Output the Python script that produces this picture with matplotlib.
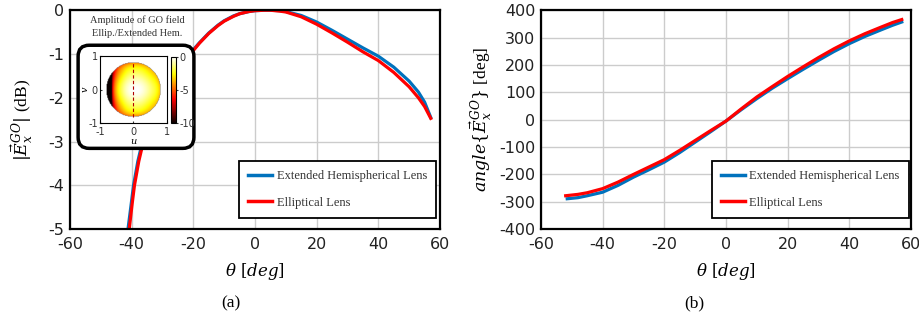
import numpy as np
import matplotlib
matplotlib.use("Agg")
import matplotlib.pyplot as plt
from matplotlib.patches import FancyBboxPatch

plt.rcParams['axes.unicode_minus'] = False
plt.rcParams['mathtext.fontset'] = 'dejavuserif'

# (a) amplitude of GO field [dB] vs theta [deg]
theta_amp_ext = [-41.2, -40.2, -39.4, -38.0, -36.5, -34, -32, -30, -28, -26, -24, -22, -20, -18, -15, -12, -10, -7, -5, -2, 0, 3, 5, 8, 10, 15, 20, 25, 30, 35, 40, 45, 50, 53, 55, 57]
amp_ext = [-5.0, -4.45, -4.0, -3.45, -3.0, -2.52, -2.2, -1.9, -1.64, -1.42, -1.24, -1.06, -0.9, -0.74, -0.52, -0.34, -0.24, -0.13, -0.08, -0.03, -0.01, 0.0, 0.0, -0.01, -0.03, -0.12, -0.27, -0.46, -0.66, -0.86, -1.05, -1.3, -1.62, -1.87, -2.1, -2.45]
theta_amp_ell = [-40.8, -39.9, -39.1, -37.7, -36.2, -34, -32, -30, -28, -26, -24, -22, -20, -18, -15, -12, -10, -7, -5, -2, 0, 3, 5, 8, 10, 15, 20, 25, 30, 35, 40, 45, 50, 53, 55, 57]
amp_ell = [-5.0, -4.45, -4.0, -3.45, -3.0, -2.55, -2.22, -1.92, -1.66, -1.44, -1.25, -1.07, -0.92, -0.75, -0.53, -0.35, -0.25, -0.14, -0.08, -0.03, -0.01, 0.0, 0.0, -0.02, -0.04, -0.15, -0.32, -0.52, -0.73, -0.95, -1.15, -1.42, -1.75, -2.0, -2.2, -2.47]

# (b) phase of GO field [deg] vs theta [deg]
theta_ph_ext = [-51.5, -48, -45, -40, -35, -30, -25, -20, -15, -10, -5, 0, 5, 10, 15, 20, 25, 30, 35, 40, 45, 50, 54, 57]
ph_ext = [-289, -285, -278, -265, -240, -210, -183, -155, -120, -82, -44, -5, 37, 77, 115, 150, 184, 217, 249, 278, 304, 327, 345, 357]
theta_ph_ell = [-52, -48, -45, -40, -35, -30, -25, -20, -15, -10, -5, 0, 5, 10, 15, 20, 25, 30, 35, 40, 45, 50, 54, 57]
ph_ell = [-278, -273, -267, -252, -228, -200, -173, -146, -112, -76, -40, -5, 40, 83, 121, 158, 193, 227, 259, 288, 314, 337, 355, 366]

labels = ['Extended Hemispherical Lens', 'Elliptical Lens']
blue = '#0072BD'
red = '#FF0000'
serif = ['Liberation Serif', 'DejaVu Serif']

fig = plt.figure(figsize=(9.19, 3.2), dpi=100)
ax1 = fig.add_axes([0.0762, 0.284, 0.4026, 0.684])
ax2 = fig.add_axes([0.5887, 0.284, 0.4026, 0.684])

for ax in (ax1, ax2):
    ax.grid(True, color='#cccccc', linewidth=1.0)
    ax.set_axisbelow(True)
    ax.tick_params(length=0, labelsize=11.5, colors='#222222', pad=4)
    ax.tick_params(axis='x', pad=6)
    for s in ax.spines.values():
        s.set_linewidth(1.6)
    ax.set_xlim(-60, 60)
    ax.set_xticks([-60, -40, -20, 0, 20, 40, 60])
    ax.set_xlabel(r'$\theta\ [deg]$', fontsize=12, labelpad=6)

ax1.plot(theta_amp_ext, amp_ext, color=blue, lw=2.3, label=labels[0])
ax1.plot(theta_amp_ell, amp_ell, color=red, lw=2.3, label=labels[1])
ax1.set_ylim(-5, 0)
ax1.set_yticks([-5, -4, -3, -2, -1, 0])
ax1.set_ylabel(r'$|\vec{E}_x^{GO}|$ (dB)', fontsize=12.5, labelpad=10, family=serif)

ax2.plot(theta_ph_ext, ph_ext, color=blue, lw=2.3, label=labels[0])
ax2.plot(theta_ph_ell, ph_ell, color=red, lw=2.3, label=labels[1])
ax2.set_ylim(-400, 400)
ax2.set_yticks(np.arange(-400, 401, 100))
ax2.set_ylabel(r'$angle\{\vec{E}_x^{GO}\}$ [deg]', fontsize=12.5, labelpad=4, family=serif)

for ax, x0 in ((ax1, 0.457), (ax2, 0.462)):
    leg = ax.legend(loc='lower left', bbox_to_anchor=(x0, 0.05), prop={'family': serif, 'size': 9},
                    fancybox=False, edgecolor='black', framealpha=1, handlelength=1.9,
                    labelspacing=1.15, borderpad=0.75, handletextpad=0.35, borderaxespad=0)
    leg.get_frame().set_linewidth(1.3)
    for h in leg.get_lines():
        h.set_linewidth(2.5)
    for t in leg.get_texts():
        t.set_color('#333333')

fig.text(0.251, 0.052, '(a)', ha='center', va='center', fontsize=12.5, family=serif)
fig.text(0.756, 0.052, '(b)', ha='center', va='center', fontsize=12.5, family=serif)

# inset: GO field amplitude map built from the elliptical lens profile
fig.text(0.149, 0.9375, 'Amplitude of GO field', ha='center', va='center', fontsize=7.5, family=serif, color='#333333')
fig.text(0.149, 0.895, 'Ellip./Extended Hem.', ha='center', va='center', fontsize=7.5, family=serif, color='#333333')

box = FancyBboxPatch((0.088, 0.545), 0.120, 0.305, boxstyle='round,pad=0.003,rounding_size=0.012',
                     transform=fig.transFigure, facecolor='white', edgecolor='black', linewidth=2.5, zorder=2,
                     mutation_aspect=919 / 320)
fig.add_artist(box)

axi = fig.add_axes([0.1088, 0.6156, 0.0729, 0.209], zorder=3)
uu, vv = np.meshgrid(np.linspace(-1, 1, 101), np.linspace(-1, 1, 101))
r = np.sqrt(uu ** 2 + vv ** 2)
tu = np.degrees(np.arcsin(np.clip(uu, -1, 1)))
tv = np.degrees(np.arcsin(np.clip(np.abs(vv), 0, 1))) + 5
field = 1.7 * (np.interp(tu, theta_amp_ell, amp_ell, left=-6.5) + np.interp(tv, theta_amp_ell, amp_ell))
field = np.clip(field, -10, 0)
field = np.where(r <= 0.82, field, np.nan)
im = axi.imshow(field, extent=[-1, 1, -1, 1], origin='lower', cmap='hot', vmin=-10, vmax=0,
                interpolation='bilinear')
axi.axvline(0, ymin=0.09, ymax=0.91, color='#b00000', lw=0.8, ls=(0, (3, 2)))
axi.set_xticks([-1, 0, 1])
axi.set_yticks([-1, 0, 1])
axi.tick_params(labelsize=7, length=1.5, direction='in', pad=1.5, colors='#333333')
axi.tick_params(axis='x', pad=3)
axi.set_xlabel(r'$u$', fontsize=7, labelpad=-1)
axi.set_ylabel(r'$v$', fontsize=7, labelpad=-1)
for s in axi.spines.values():
    s.set_linewidth(0.8)

cax = fig.add_axes([0.186, 0.6156, 0.0054, 0.206], zorder=3)
cb = fig.colorbar(im, cax=cax, ticks=[0, -5, -10])
cb.ax.tick_params(labelsize=7, length=1.5, pad=1, colors='#333333')
cb.outline.set_linewidth(0.8)

fig.savefig('out.png', dpi=100)
